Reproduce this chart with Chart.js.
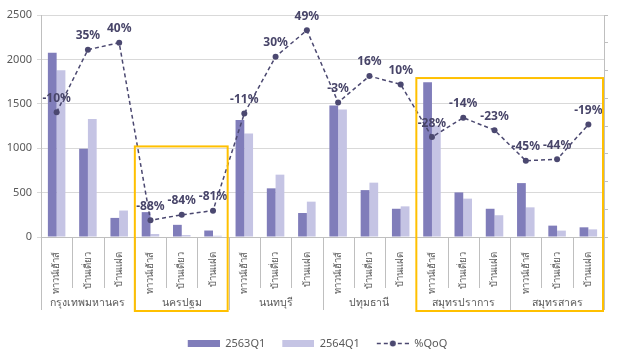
<!DOCTYPE html>
<html>
<head>
<meta charset="utf-8">
<script src="https://cdn.jsdelivr.net/npm/chart.js@4.4.0/dist/chart.umd.min.js"></script>
<style>
  html, body { margin: 0; padding: 0; background: #fff; }
</style>
</head>
<body>
<canvas id="chart1" width="628" height="359"></canvas>
<script>
var provinces = ["กรุงเทพมหานคร", "นครปฐม", "นนทบุรี", "ปทุมธานี", "สมุทรปราการ", "สมุทรสาคร"];
var houseTypes = ["ทาวน์เฮ้าส์", "บ้านเดี่ยว", "บ้านแฝด"];
var seriesNames = ["2563Q1", "2564Q1", "%QoQ"];
var q2563 = [2075, 995, 215, 280, 137, 73, 1318, 548, 270, 1481, 528, 318, 1744, 502, 318, 607, 128, 109];
var q2564 = [1877, 1330, 298, 34, 22, 14, 1165, 702, 398, 1435, 612, 345, 1256, 432, 245, 334, 72, 86];
var qoq = [-10, 35, 40, -88, -84, -81, -11, 30, 49, -3, 16, 10, -28, -14, -23, -45, -44, -19];

var labels = [];
provinces.forEach(function() {
    houseTypes.forEach(function(h) { labels.push(h); });
});

var darkColor = 'rgb(128,125,186)';
var lightColor = 'rgb(197,196,228)';
var lineColor = 'rgb(75,72,112)';
var textColor = '#595959';
var axisColor = '#bfbfbf';
var fontFamily = "'Noto Sans', 'DejaVu Sans', sans-serif";

// legend icons
function makeIcon(kind, color) {
    var c = document.createElement('canvas');
    c.width = 39; c.height = 11;
    var g = c.getContext('2d');
    if (kind === 'bar') {
        g.fillStyle = color;
        g.fillRect(7, 2, 32, 7);
    } else {
        g.strokeStyle = color;
        g.lineWidth = 1.5;
        g.setLineDash([4, 3]);
        g.beginPath(); g.moveTo(7, 5.5); g.lineTo(39, 5.5); g.stroke();
        g.fillStyle = color;
        g.beginPath(); g.arc(23, 5.5, 3, 0, Math.PI * 2); g.fill();
    }
    return c;
}
var legendIcons = [makeIcon('bar', darkColor), makeIcon('bar', lightColor), makeIcon('line', lineColor)];

// separators, province names, data labels, highlight boxes
var extrasPlugin = {
    id: 'extras',
    afterDatasetsDraw: function(chart) {
        var ctx = chart.ctx;
        var meta = chart.getDatasetMeta(2);
        ctx.save();
        ctx.font = 'bold 12px ' + fontFamily;
        ctx.fillStyle = 'rgb(72,69,105)';
        ctx.textAlign = 'center';
        ctx.textBaseline = 'middle';
        meta.data.forEach(function(pt, i) {
            ctx.fillText(qoq[i] + '%', pt.x, pt.y - 14);
        });
        ctx.restore();
    },
    afterDraw: function(chart) {
        var ctx = chart.ctx;
        var ys = chart.scales.y;
        var area = chart.chartArea;
        var step = (area.right - area.left) / labels.length;
        ctx.save();
        ctx.strokeStyle = axisColor;
        ctx.lineWidth = 1;
        for (var i = 0; i <= labels.length; i++) {
            var x = Math.round(area.left + i * step) + 0.5;
            ctx.beginPath();
            ctx.moveTo(x, area.bottom);
            ctx.lineTo(x, area.bottom + (i % 3 === 0 ? 73 : 51));
            ctx.stroke();
        }
        ctx.font = '10.5px ' + fontFamily;
        ctx.fillStyle = textColor;
        ctx.textAlign = 'center';
        ctx.textBaseline = 'middle';
        provinces.forEach(function(p, k) {
            ctx.fillText(p, area.left + (k * 3 + 1.5) * step, area.bottom + 66);
        });
        // highlight boxes
        ctx.strokeStyle = '#FFC000';
        ctx.lineWidth = 2;
        var boxes = [[3, 6, 1020], [12, 18, 1790]];
        boxes.forEach(function(b) {
            var x0 = area.left + b[0] * step, x1 = area.left + b[1] * step - 1;
            var y0 = ys.getPixelForValue(b[2]), y1 = area.bottom + 74;
            ctx.strokeRect(x0, y0, x1 - x0, y1 - y0);
        });
        ctx.restore();
    }
};

var ctx = document.getElementById('chart1').getContext('2d');
var chart = new Chart(ctx, {
    type: 'bar',
    data: {
        labels: labels,
        datasets: [{
            label: seriesNames[0],
            backgroundColor: darkColor,
            data: q2563,
            yAxisID: 'y',
            categoryPercentage: 0.56,
            barPercentage: 1.0
        }, {
            label: seriesNames[1],
            backgroundColor: lightColor,
            data: q2564,
            yAxisID: 'y',
            categoryPercentage: 0.56,
            barPercentage: 1.0
        }, {
            type: 'line',
            label: seriesNames[2],
            data: qoq,
            yAxisID: 'y1',
            borderColor: lineColor,
            backgroundColor: lineColor,
            borderWidth: 1.5,
            borderDash: [4, 3],
            pointRadius: 3,
            pointBorderWidth: 0,
            pointBackgroundColor: lineColor,
            tension: 0,
            order: -1
        }]
    },
    options: {
        responsive: false,
        animation: false,
        layout: { padding: { top: 15, left: 0, right: 0, bottom: 0 } },
        plugins: {
            tooltip: { enabled: false },
            legend: {
                position: 'bottom',
                labels: {
                    usePointStyle: true,
                    pointStyleWidth: 39,
                    padding: 10,
                    color: textColor,
                    font: { family: fontFamily, size: 11 },
                    generateLabels: function(chart) {
                        return chart.data.datasets.map(function(ds, i) {
                            return {
                                text: ds.label,
                                pointStyle: legendIcons[i],
                                fillStyle: 'transparent',
                                strokeStyle: 'transparent',
                                lineWidth: 0,
                                hidden: false,
                                datasetIndex: i,
                                fontColor: textColor
                            };
                        });
                    }
                }
            }
        },
        scales: {
            x: {
                grid: { display: false },
                border: { display: true, color: axisColor },
                ticks: {
                    autoSkip: false, minRotation: 90, maxRotation: 90, padding: 7,
                    color: textColor, font: { family: fontFamily, size: 9.5 }
                },
                afterFit: function(s) { s.height = 91; }
            },
            y: {
                position: 'left',
                min: 0, max: 2500,
                ticks: {
                    stepSize: 500, color: textColor, padding: 5,
                    font: { family: fontFamily, size: 11 },
                    callback: function(v) { return String(v); }
                },
                grid: { color: '#d9d9d9', tickLength: 4 },
                border: { display: true, color: axisColor },
                afterFit: function(s) { s.width = 41; }
            },
            y1: {
                position: 'right',
                min: -100, max: 60,
                ticks: { stepSize: 20, display: false },
                grid: { drawOnChartArea: false, tickLength: 4, color: axisColor },
                border: { display: true, color: axisColor },
                afterFit: function(s) { s.width = 24; }
            }
        }
    },
    plugins: [extrasPlugin]
});
</script>
</body>
</html>
